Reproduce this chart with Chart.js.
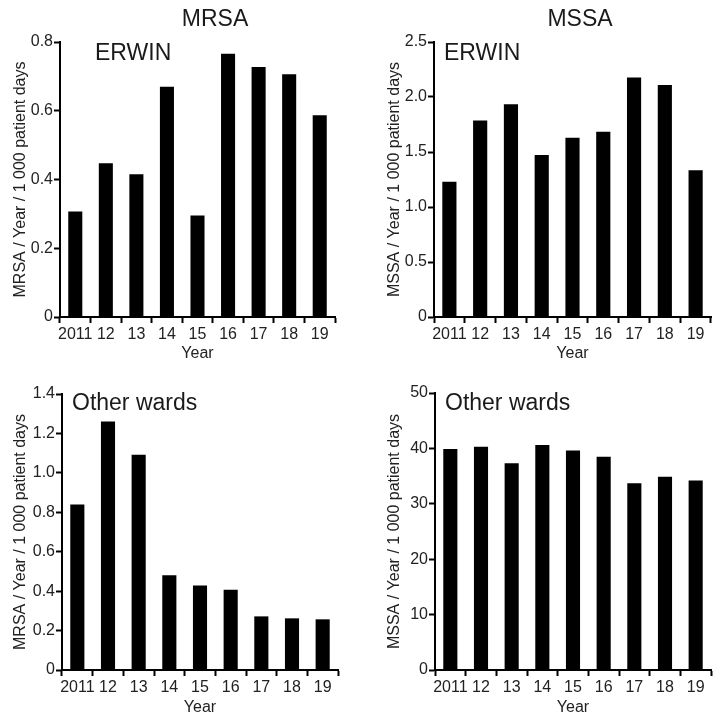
<!DOCTYPE html>
<html>
<head>
<meta charset="utf-8">
<script src="https://cdn.jsdelivr.net/npm/chart.js@4"></script>
<style>
  html, body { margin: 0; padding: 0; background: #fff; }
  #wrap { position: relative; width: 724px; height: 718px; overflow: hidden; font-family: "Liberation Sans", Arial, sans-serif; }
  canvas { position: absolute; }
  .lbl { position: absolute; height: 30px; line-height: 30px; font-size: 23px; color: #1a1a1a; white-space: nowrap; }
</style>
</head>
<body>
<div id="wrap">
  <canvas id="c1" width="362" height="364" style="left:0px;top:0px;width:362px;height:364px"></canvas>
  <canvas id="c2" width="362" height="364" style="left:362px;top:0px;width:362px;height:364px"></canvas>
  <canvas id="c3" width="362" height="358" style="left:0px;top:360px;width:362px;height:358px"></canvas>
  <canvas id="c4" width="362" height="358" style="left:362px;top:360px;width:362px;height:358px"></canvas>
  <div class="lbl" style="left:115px;top:3px;width:200px;text-align:center">MRSA</div>
  <div class="lbl" style="left:480px;top:3px;width:200px;text-align:center">MSSA</div>
  <div class="lbl" style="left:95px;top:37px">ERWIN</div>
  <div class="lbl" style="left:444px;top:37px">ERWIN</div>
  <div class="lbl" style="left:72px;top:387px">Other wards</div>
  <div class="lbl" style="left:445px;top:387px">Other wards</div>
</div>
<script>
// ---- data ----
const years = ['2011', '12', '13', '14', '15', '16', '17', '18', '19'];
const mrsaErwin = [0.307, 0.447, 0.415, 0.670, 0.295, 0.766, 0.727, 0.706, 0.587];
const mssaErwin = [1.23, 1.787, 1.935, 1.472, 1.63, 1.684, 2.177, 2.11, 1.333];
const mrsaOther = [0.839, 1.26, 1.092, 0.48, 0.428, 0.407, 0.272, 0.262, 0.257];
const mssaOther = [39.9, 40.3, 37.3, 40.6, 39.6, 38.5, 33.7, 34.9, 34.2];
const mrsaErwinTicks = ['0', '0.2', '0.4', '0.6', '0.8'];
const mssaErwinTicks = ['0', '0.5', '1.0', '1.5', '2.0', '2.5'];
const mrsaOtherTicks = ['0', '0.2', '0.4', '0.6', '0.8', '1.0', '1.2', '1.4'];
const mssaOtherTicks = ['0', '10', '20', '30', '40', '50'];
const mrsaYTitle = 'MRSA / Year / 1 000 patient days';
const mssaYTitle = 'MSSA / Year / 1 000 patient days';
const xTitle = 'Year';

const FONT = '"Liberation Sans", Arial, sans-serif';
const TXT = '#222';

function makeChart(id, values, tickLabels, yMax, yStep, yTitle, cfg) {
  new Chart(document.getElementById(id), {
    type: 'bar',
    data: {
      labels: years,
      datasets: [{
        data: values,
        backgroundColor: '#000',
        borderWidth: 0,
        barPercentage: 0.46,
        categoryPercentage: 1.0
      }]
    },
    options: {
      responsive: false,
      animation: false,
      devicePixelRatio: 1,
      layout: { padding: { left: 0, top: cfg.top, right: cfg.right, bottom: 0 } },
      plugins: { legend: { display: false }, tooltip: { enabled: false }, title: { display: false } },
      scales: {
        x: {
          type: 'category',
          offset: true,
          grid: { offset: true, drawOnChartArea: false, drawTicks: true, tickLength: 6, tickWidth: 2, color: '#000' },
          border: { display: true, color: '#000', width: 2 },
          ticks: { color: TXT, font: { family: FONT, size: 16 }, padding: 2, maxRotation: 0, autoSkip: false },
          title: { display: true, text: xTitle, color: TXT, font: { family: FONT, size: 16 }, padding: { top: 0, bottom: cfg.xtPad } },
          afterFit: (s) => { s.height = cfg.xh; }
        },
        y: {
          min: 0, max: yMax,
          grid: { drawOnChartArea: false, drawTicks: true, tickLength: 6, tickWidth: 2, color: '#000' },
          border: { display: true, color: '#000', width: 2 },
          ticks: {
            stepSize: yStep, color: TXT, font: { family: FONT, size: 16 }, padding: 1,
            callback: (v, i) => tickLabels[i]
          },
          title: { display: true, text: yTitle, color: TXT, font: { family: FONT, size: 16 }, padding: { top: cfg.ytPad, bottom: 0 } },
          afterFit: (s) => { s.width = cfg.yw; }
        }
      }
    }
  });
}

makeChart('c1', mrsaErwin, mrsaErwinTicks, 0.8, 0.2, mrsaYTitle, { top: 42, right: 27, yw: 60, xh: 47, ytPad: 10.5, xtPad: 0.4 });
makeChart('c2', mssaErwin, mssaErwinTicks, 2.5, 0.5, mssaYTitle, { top: 42, right: 13, yw: 72, xh: 47, ytPad: 22.5, xtPad: 0.4 });
makeChart('c3', mrsaOther, mrsaOtherTicks, 1.4, 0.2, mrsaYTitle, { top: 34, right: 24, yw: 62, xh: 48, ytPad: 11, xtPad: 0.4 });
makeChart('c4', mssaOther, mssaOtherTicks, 50, 10, mssaYTitle, { top: 33, right: 13, yw: 73, xh: 48, ytPad: 22.5, xtPad: 0.4 });
</script>
</body>
</html>
